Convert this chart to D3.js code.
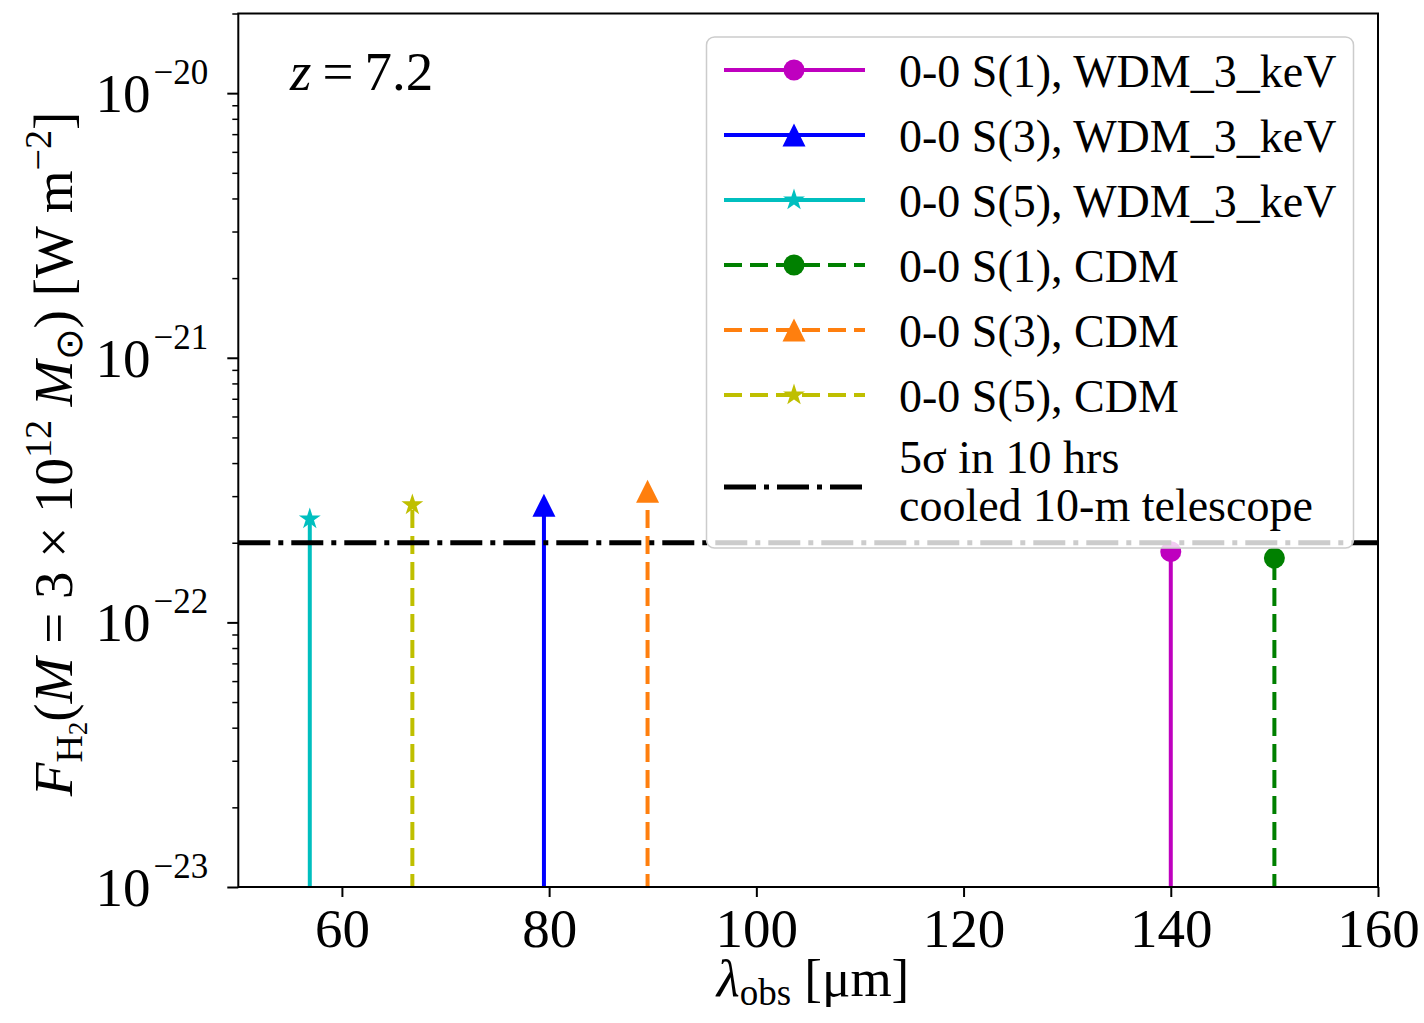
<!DOCTYPE html>
<html>
<head>
<meta charset="utf-8">
<script src="https://cdn.jsdelivr.net/npm/d3@7"></script>
<style>
  body { margin: 0; background: #fff; }
  svg, svg text { font-family: "Liberation Serif", "Times New Roman", serif; }
  svg { display: block; }
</style>
</head>
<body>
<div class="chart"></div>
<script>
// line labels and values
var lineLabels = ['0-0 S(1), WDM_3_keV', '0-0 S(3), WDM_3_keV', '0-0 S(5), WDM_3_keV',
                  '0-0 S(1), CDM', '0-0 S(3), CDM', '0-0 S(5), CDM'];
var wavelengths = [140.0, 79.5, 56.9, 150.0, 89.5, 66.8];
var fluxes = [1.85e-22, 2.77e-22, 2.46e-22, 1.75e-22, 3.13e-22, 2.78e-22];
var threshold = 2e-22;
var thresholdLabel = ['5σ in 10 hrs', 'cooled 10-m telescope'];
var xTicks = [60, 80, 100, 120, 140, 160];
var yTicks = [1e-23, 1e-22, 1e-21, 1e-20];
var yTickExp = ['−23', '−22', '−21', '−20'];

// styles
var colors = ['#bf00bf', '#0000ff', '#00bfbf', '#008000', '#ff7f0e', '#bfbf00'];
var dashed = [false, false, false, true, true, true];
var markers = ['circle', 'triangle', 'star', 'circle', 'triangle', 'star'];

var svgWidth = 1424, svgHeight = 1023;
// plot box
var leftMove = 238.3, topMove = 13.5, rightEdge = 1378, bottomEdge = 887;

var svg = d3.select('.chart').append('svg')
    .attr('width', svgWidth)
    .attr('height', svgHeight);

var x = d3.scaleLinear().domain([50, 160]).range([leftMove, rightEdge]);
var y = d3.scaleLog().domain([1e-23, 2e-20]).range([bottomEdge, topMove]);

// marker shapes like matplotlib
var triType = {
    draw: function(ctx, r) {
        ctx.moveTo(0, -r); ctx.lineTo(r, r); ctx.lineTo(-r, r); ctx.closePath();
    }
};
var starType = {
    draw: function(ctx, r) {
        var ri = r * 0.381966;
        for (var k = 0; k < 10; k++) {
            var rr = k % 2 ? ri : r;
            var a = -Math.PI / 2 + k * Math.PI / 5;
            if (k == 0) ctx.moveTo(rr * Math.cos(a), rr * Math.sin(a));
            else ctx.lineTo(rr * Math.cos(a), rr * Math.sin(a));
        }
        ctx.closePath();
    }
};
var circType = {
    draw: function(ctx, r) { ctx.moveTo(r, 0); ctx.arc(0, 0, r, 0, 2 * Math.PI); }
};
function markerPath(m) {
    if (m == 'triangle') return d3.symbol().type(triType).size(11.5)();
    if (m == 'star') return d3.symbol().type(starType).size(11.5)();
    return d3.symbol().type(circType).size(10.5)();
}

svg.append('clipPath').attr('id', 'clip')
    .append('rect')
    .attr('x', leftMove).attr('y', topMove)
    .attr('width', rightEdge - leftMove).attr('height', bottomEdge - topMove);

var plot = svg.append('g').attr('clip-path', 'url(#clip)');

var data = wavelengths.map(function(w, i) { return { w: w, f: fluxes[i], i: i }; });

// vertical lines
plot.selectAll('line.stem')
    .data(data)
    .enter()
    .append('line')
    .classed('stem', true)
    .attr('x1', function(d) { return x(d.w); })
    .attr('x2', function(d) { return x(d.w); })
    .attr('y1', bottomEdge + 5)
    .attr('y2', function(d) { return y(d.f); })
    .style('stroke', function(d) { return colors[d.i]; })
    .style('stroke-width', 4)
    .style('stroke-dasharray', function(d) { return dashed[d.i] ? '18,8' : null; });

plot.selectAll('path.mark')
    .data(data)
    .enter()
    .append('path')
    .classed('mark', true)
    .attr('d', function(d) { return markerPath(markers[d.i]); })
    .attr('transform', function(d) { return 'translate(' + x(d.w) + ',' + y(d.f) + ')'; })
    .style('fill', function(d) { return colors[d.i]; });

// threshold line
plot.append('line')
    .attr('x1', leftMove).attr('x2', rightEdge)
    .attr('y1', y(threshold)).attr('y2', y(threshold))
    .style('stroke', '#000')
    .style('stroke-width', 5)
    .style('stroke-dasharray', '32,8,5,8');

// axes
var xAxis = d3.axisBottom(x).tickValues(xTicks).tickSize(10).tickPadding(8).tickFormat('');
var gx = svg.append('g').attr('transform', 'translate(0,' + bottomEdge + ')').call(xAxis);
gx.select('.domain').remove();
gx.selectAll('.tick line').style('stroke', '#000').style('stroke-width', 2);
gx.selectAll('.tick text').remove();
gx.selectAll('.tick').append('text')
    .attr('y', 60)
    .attr('text-anchor', 'middle')
    .style('font-size', '55px')
    .style('fill', '#000')
    .text(function(d) { return d; });

var minor = [];
for (var e = -23; e <= -20; e++) {
    for (var m = 2; m <= 9; m++) {
        var v = m * Math.pow(10, e);
        if (v <= 2e-20) minor.push(v);
    }
}
var yMinor = d3.axisLeft(y).tickValues(minor).tickSize(6).tickFormat('');
var gym = svg.append('g').attr('transform', 'translate(' + leftMove + ',0)').call(yMinor);
gym.select('.domain').remove();
gym.selectAll('.tick line').style('stroke', '#000').style('stroke-width', 1.5);

var yAxis = d3.axisLeft(y).tickValues(yTicks).tickSize(11).tickFormat('');
var gy = svg.append('g').attr('transform', 'translate(' + leftMove + ',0)').call(yAxis);
gy.select('.domain').remove();
gy.selectAll('.tick text').remove();
gy.selectAll('.tick line').style('stroke', '#000').style('stroke-width', 2);
var yt = gy.selectAll('.tick').append('text')
    .attr('x', -30)
    .attr('y', 18.5)
    .attr('text-anchor', 'end')
    .style('font-size', '55px')
    .style('fill', '#000');
yt.append('tspan').text('10');
yt.append('tspan')
    .attr('dy', -28)
    .attr('dx', 3)
    .style('font-size', '35px')
    .text(function(d, i) { return yTickExp[i]; });

// frame
svg.append('rect')
    .attr('x', leftMove).attr('y', topMove)
    .attr('width', rightEdge - leftMove).attr('height', bottomEdge - topMove)
    .style('fill', 'none').style('stroke', '#000').style('stroke-width', 2);

// axis labels
var xl = svg.append('text')
    .attr('x', 813).attr('y', 996)
    .attr('text-anchor', 'middle')
    .style('font-size', '53px');
xl.append('tspan').style('font-style', 'italic').text('λ');
xl.append('tspan').attr('dy', 9).style('font-size', '37px').text('obs');
xl.append('tspan').attr('dy', -9).text(' [μm]');

var yl = svg.append('text')
    .attr('transform', 'translate(72,454) rotate(-90)')
    .attr('text-anchor', 'middle')
    .style('font-size', '55px');
yl.append('tspan').style('font-style', 'italic').text('F');
yl.append('tspan').attr('dy', 10).style('font-size', '38px').text('H');
yl.append('tspan').attr('dy', 5).style('font-size', '27px').text('2');
yl.append('tspan').attr('dy', -15).text('(');
yl.append('tspan').style('font-style', 'italic').text('M');
yl.append('tspan').text(' = 3 × 10');
yl.append('tspan').attr('dy', -21).style('font-size', '38px').text('12');
yl.append('tspan').attr('dy', 21).text(' ');
yl.append('tspan').style('font-style', 'italic').text('M');
yl.append('tspan').attr('dy', 10).style('font-size', '38px').text('⊙');
yl.append('tspan').attr('dy', -10).text(') [W m');
yl.append('tspan').attr('dy', -21).style('font-size', '38px').text('−2');
yl.append('tspan').attr('dy', 21).text(']');

// redshift note
var zt = svg.append('text')
    .attr('x', 290).attr('y', 90)
    .style('font-size', '55px');
zt.append('tspan').style('font-style', 'italic').text('z');
zt.append('tspan').text('\u2009=\u20097.2');

// legend
var legend = svg.append('g');
legend.append('rect')
    .attr('x', 706.5).attr('y', 37)
    .attr('width', 647).attr('height', 511)
    .attr('rx', 8)
    .style('fill', '#fff').style('fill-opacity', 0.8)
    .style('stroke', '#cccccc').style('stroke-width', 1.5);

var rows = legend.selectAll('g.row')
    .data(data)
    .enter()
    .append('g')
    .classed('row', true)
    .attr('transform', function(d, i) { return 'translate(0,' + (70 + i * 65) + ')'; });
rows.append('line')
    .attr('x1', 724).attr('x2', 865)
    .style('stroke', function(d) { return colors[d.i]; })
    .style('stroke-width', 4)
    .style('stroke-dasharray', function(d) { return dashed[d.i] ? '18,8' : null; });
rows.append('path')
    .attr('d', function(d) { return markerPath(markers[d.i]); })
    .attr('transform', 'translate(794,0)')
    .style('fill', function(d) { return colors[d.i]; });
rows.append('text')
    .attr('x', 899).attr('y', 17)
    .style('font-size', '46px')
    .text(function(d) { return lineLabels[d.i]; });

legend.append('line')
    .attr('x1', 724).attr('x2', 865)
    .attr('y1', 487).attr('y2', 487)
    .style('stroke', '#000').style('stroke-width', 5)
    .style('stroke-dasharray', '32,8,5,8');
legend.selectAll('text.thr')
    .data(thresholdLabel)
    .enter()
    .append('text')
    .classed('thr', true)
    .attr('x', 899)
    .attr('y', function(d, i) { return 473 + i * 48; })
    .style('font-size', '46px')
    .text(function(d) { return d; });
</script>
</body>
</html>
